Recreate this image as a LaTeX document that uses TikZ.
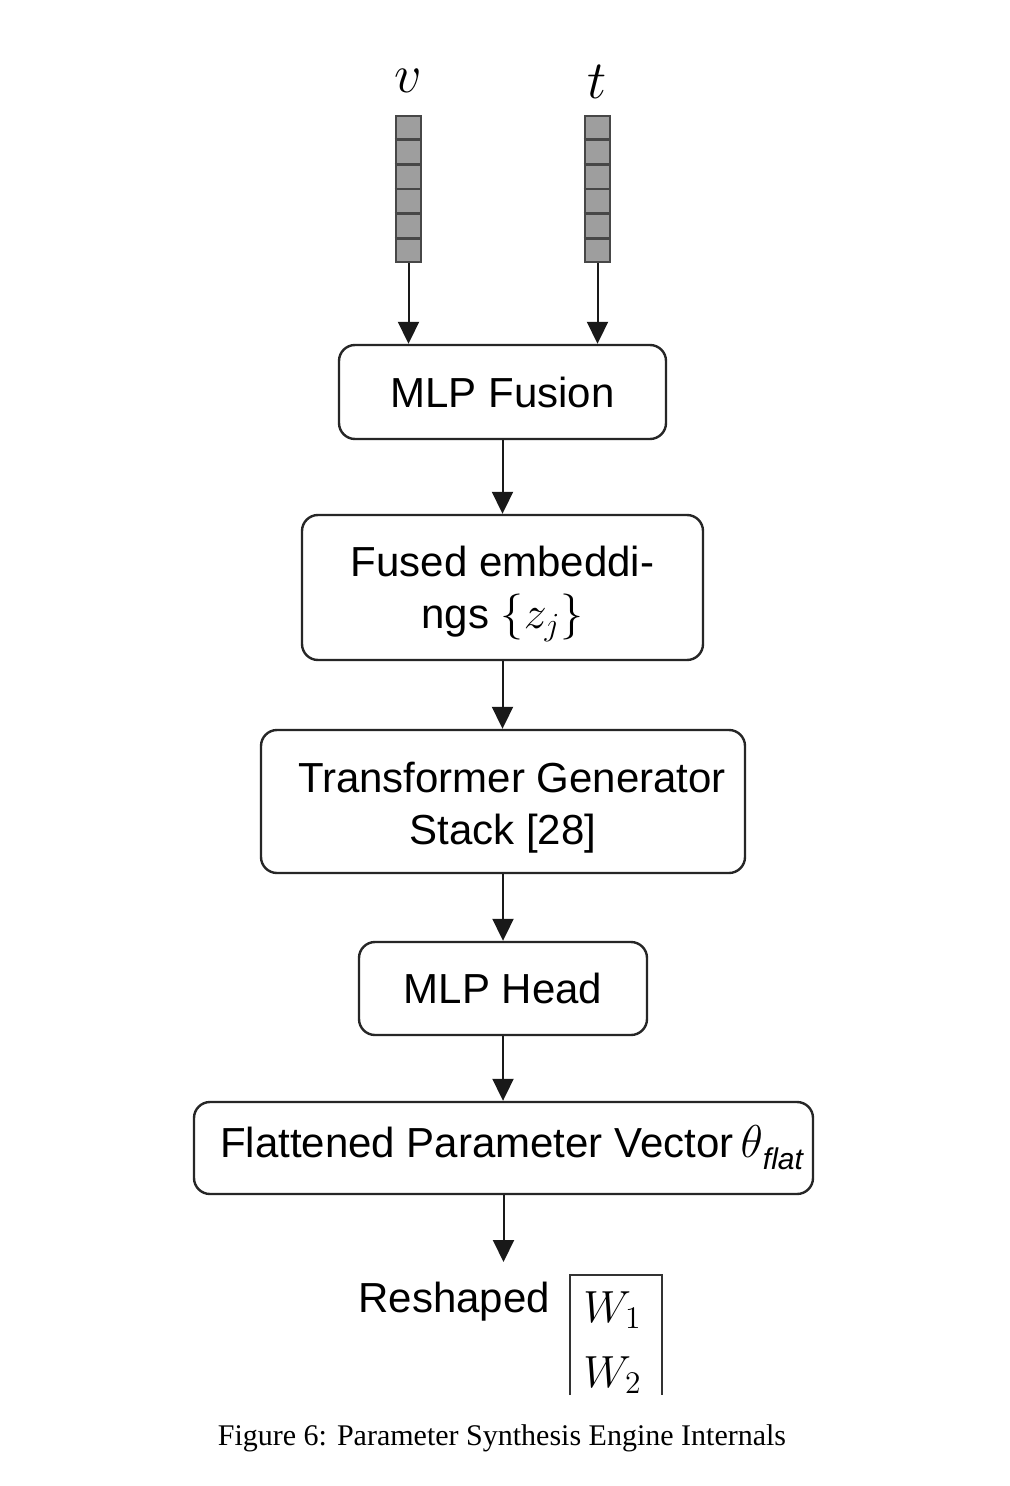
\RequirePackage{fix-cm}
\documentclass[tikz,border=0pt]{standalone}
\usepackage[no-math]{fontspec}
\setmainfont{Liberation Sans}
\newfontfamily\capfont{Liberation Serif}
\usetikzlibrary{arrows.meta,calc}
\tikzset{
  box/.style={draw=black!85, line width=1.2pt, rounded corners=8pt,
    font=\fontsize{21}{26}\selectfont, align=center, inner sep=0pt},
  arr/.style={-{Triangle[width=10.5pt,length=11pt]}, line width=1pt, draw=black!90},
  vecbox/.style={draw=black!72, fill=black!38, line width=1.4pt,
    minimum width=12.5pt, minimum height=73pt, inner sep=0pt},
  mathlbl/.style={font=\fontsize{27}{30}\selectfont, inner sep=0pt},
}
\begin{document}
\begin{tikzpicture}[x=0.5pt,y=-0.5pt]
\useasboundingbox[fill=white] (0,0) rectangle (1009,1486);

% input labels
\node[mathlbl, anchor=base] (vl) at (408,93) {$v$};
\node[mathlbl, anchor=base] (tl) at (597,99) {$t$};

% input vectors
\node[vecbox] (vv) at (408.5,189) {};
\node[vecbox] (tv) at (597.5,189) {};
\foreach \n in {vv,tv}{
  \foreach \i in {1,...,5}{
    \draw[black!72, line width=1.4pt]
      ($(\n.north west)!\i/6!(\n.south west)$) -- ($(\n.north east)!\i/6!(\n.south east)$);
  }
}

% boxes
\node[box, minimum width=163.5pt, minimum height=47pt] (fusion) at (502.5,392) {MLP Fusion};
\node[box, minimum width=200.5pt, minimum height=72.5pt] (fused) at (502.5,587.5)
  {\rule{0pt}{21.5pt}Fused embeddi-\\ngs {\fontsize{23}{26}\selectfont$\{z_j\}$}};
\node[box, minimum width=242pt, minimum height=71.5pt] (trans) at (503,801.5)
  {\rule{0pt}{21.5pt}\hspace*{9pt}Transformer Generator\\Stack [28]};
\node[box, minimum width=144pt, minimum height=46.5pt] (head) at (503,988.5) {MLP Head};
\node[box, minimum width=309.5pt, minimum height=46pt] (flat) at (503.5,1148)
  {\hspace*{8pt}Flattened Parameter Vector\,{\fontsize{23}{26}\selectfont$\theta$}\raisebox{-6pt}{\fontsize{15}{16}\selectfont\itshape flat}};

% output
\node[anchor=base west, inner sep=0pt, font=\fontsize{21}{26}\selectfont] (resh) at (358,1312) {Reshaped};
\draw[line width=1pt, black!80] (570,1395) -- (570,1275) -- (662,1275) -- (662,1395);
\node[anchor=base west, inner sep=0pt, font=\fontsize{22.5}{26}\selectfont] (w1) at (583,1322) {$W_1$};
\node[anchor=base west, inner sep=0pt, font=\fontsize{22.5}{26}\selectfont] (w2) at (583,1387) {$W_2$};
\coordinate (endp) at (503,1262);

% connectors
\draw[arr] (vv.south) -- (vv.south |- fusion.north);
\draw[arr] (tv.south) -- (tv.south |- fusion.north);
\draw[arr] (fusion.south) -- (fusion.south |- fused.north);
\draw[arr] (fused.south) -- (fused.south |- trans.north);
\draw[arr] (trans.south) -- (trans.south |- head.north);
\draw[arr] (head.south) -- (head.south |- flat.north);
\draw[arr] (flat.south) -- (flat.south |- endp);

% caption
\node[font=\capfont\fontsize{15}{18}\selectfont, inner sep=0pt] (cap) at (502,1438)
  {Figure 6: Parameter Synthesis Engine Internals};
\end{tikzpicture}
\end{document}
